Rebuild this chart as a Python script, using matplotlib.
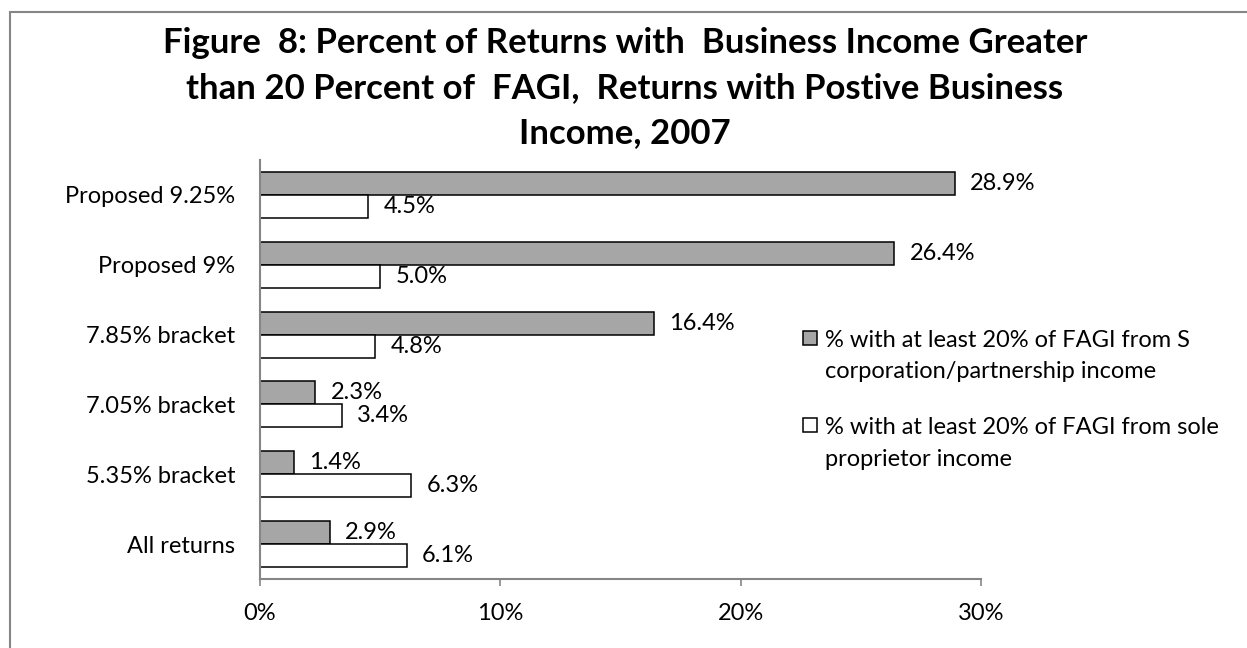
import matplotlib.pyplot as plt
from matplotlib.patches import Rectangle

# === DADOS ===
categories = ["Proposed 9.25%", "Proposed 9%", "7.85% bracket",
              "7.05% bracket", "5.35% bracket", "All returns"]
s_corp = [28.9, 26.4, 16.4, 2.3, 1.4, 2.9]
sole_prop = [4.5, 5.0, 4.8, 3.4, 6.3, 6.1]
series_names = ["% with at least 20% of FAGI from S\ncorporation/partnership income",
                "% with at least 20% of FAGI from sole\nproprietor income"]
x_ticks = [0, 10, 20, 30]
x_tick_labels = ["0%", "10%", "20%", "30%"]

title = ("Figure  8: Percent of Returns with  Business Income Greater\n"
         "than 20 Percent of  FAGI,  Returns with Postive Business\n"
         "Income, 2007")

# === ESTILO ===
plt.rcParams['font.family'] = ['Lato', 'DejaVu Sans']
GRAY = "#a6a6a6"
AXIS = "#868686"
FS = 17
W, H = 1247, 648

fig = plt.figure(figsize=(W / 100, H / 100), dpi=100)
ax = fig.add_axes([260 / W, (H - 579) / H, (981 - 260) / W, (579 - 160) / H])

n = len(categories)
ypos = list(range(n - 1, -1, -1))  # primeira categoria no topo
h = 0.33

bars1 = ax.barh([y + h / 2 for y in ypos], s_corp, height=h, color=GRAY,
                edgecolor="black", linewidth=1.1)
bars2 = ax.barh([y - h / 2 for y in ypos], sole_prop, height=h, color="white",
                edgecolor="black", linewidth=1.1)

# rótulos numéricos
for bars in (bars1, bars2):
    for bar in bars:
        w = bar.get_width()
        ax.annotate(f"{w:.1f}%", (w, bar.get_y() + bar.get_height() / 2),
                    xytext=(11, 0), textcoords="offset points",
                    va="center", ha="left", fontsize=FS)

ax.set_xlim(0, 30)
ax.set_ylim(-0.5, n - 0.5)
ax.set_xticks(x_ticks)
ax.set_xticklabels(x_tick_labels, fontsize=FS)
ax.set_yticks(ypos)
ax.set_yticklabels(categories, fontsize=FS)
ax.tick_params(axis="x", length=5, width=1.2, color=AXIS, pad=12)
ax.tick_params(axis="y", length=0, pad=18)

for side in ("top", "right"):
    ax.spines[side].set_visible(False)
for side in ("left", "bottom"):
    ax.spines[side].set_color(AXIS)
    ax.spines[side].set_linewidth(1.5)

# título: va="baseline" alinha a última linha
fig.text(625 / W, 1 - 143 / H, title, ha="center", va="baseline", fontsize=25,
         fontweight="bold", linespacing=1.5)

# legenda (chaves quadradas + texto em duas linhas)
for color, label, yc in zip([GRAY, "white"], series_names, [338, 425]):
    fig.patches.append(Rectangle((803 / W, 1 - (yc + 7) / H), 14 / W, 14 / H,
                                 transform=fig.transFigure, facecolor=color,
                                 edgecolor="black", linewidth=1.1))
    fig.text(825 / W, 1 - (yc + 8.5 + 32) / H, label, ha="left", va="baseline",
             fontsize=FS, linespacing=1.62)

# borda externa do gráfico
fig.patches.append(Rectangle((10 / W, -0.1), 1.2, 1.1 - 12 / H, transform=fig.transFigure,
                             fill=False, edgecolor=AXIS, linewidth=1.5))

plt.savefig("out.png", dpi=100)
